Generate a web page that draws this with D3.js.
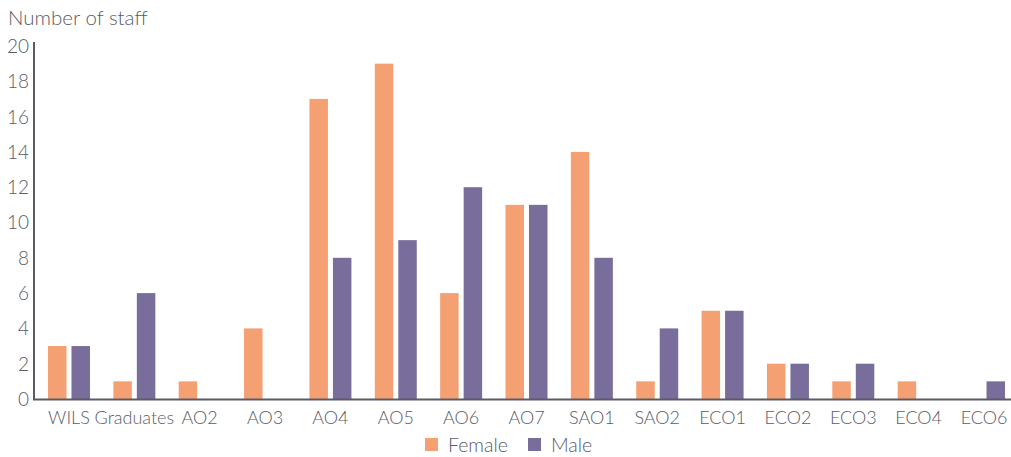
<!DOCTYPE html>
<html>
<head>
<meta charset="utf-8">
<script src="https://cdn.jsdelivr.net/npm/d3@7"></script>
<style>
  html, body { margin: 0; padding: 0; background: #fff; }
  svg text { font-family: "Lato", "Open Sans", sans-serif; font-weight: 300; fill: #5b5b66; }
</style>
</head>
<body>
<svg id="chart" width="1011" height="457"></svg>
<script>
// Staff headcount by grade, split by gender
const grades = ["WILS", "Graduates", "AO2", "AO3", "AO4", "AO5", "AO6", "AO7", "SAO1", "SAO2", "ECO1", "ECO2", "ECO3", "ECO4", "ECO6"];
const female = [3, 1, 1, 4, 17, 19, 6, 11, 14, 1, 5, 2, 1, 1, 0];
const male   = [3, 6, 0, 0, 8, 9, 12, 11, 8, 4, 5, 2, 2, 0, 1];
const seriesNames = ["Female", "Male"];
const yTicks = [0, 2, 4, 6, 8, 10, 12, 14, 16, 18, 20];

const colors = { Female: "#f4a072", Male: "#796e9b" };

const svg = d3.select("#chart");
const axisX = 34, plotLeft = 36.3, plotRight = 1016.7, plotTop = 46, plotBottom = 399;

const x = d3.scaleBand().domain(grades).range([plotLeft, plotRight]).padding(0);
const y = d3.scaleLinear().domain([0, 20]).range([plotBottom, plotTop]);

const barW = 18.5, gap = 2.5;

// bars
const rows = grades.map((g, i) => ({ grade: g, Female: female[i], Male: male[i] }));
seriesNames.forEach((s, si) => {
  svg.append("g").selectAll("rect")
    .data(rows.filter(d => d[s] > 0))
    .join("rect")
    .attr("x", d => {
      const c = x(d.grade) + x.bandwidth() / 2;
      return si === 0 ? c - gap - barW : c + gap;
    })
    .attr("y", d => y(d[s]))
    .attr("width", barW)
    .attr("height", d => plotBottom - y(d[s]))
    .attr("fill", colors[s]);
});

// y axis
const yAxis = d3.axisLeft(y).tickValues(yTicks).tickSize(0).tickPadding(6).tickFormat(d3.format("d"));
const gy = svg.append("g").attr("transform", `translate(${axisX},0)`).call(yAxis);
gy.select(".domain").remove();
gy.selectAll("text").style("font-size", "19px").attr("dy", "0.34em").attr("x", -5);
svg.append("line").attr("x1", axisX).attr("x2", axisX).attr("y1", 42).attr("y2", plotBottom + 1)
  .attr("stroke", "#5b5b66").attr("stroke-width", 2);

// x axis
const xAxis = d3.axisBottom(x).tickSize(0).tickPadding(12);
const gx = svg.append("g").attr("transform", `translate(0,${plotBottom})`).call(xAxis);
gx.select(".domain").remove();
gx.selectAll("text").style("font-size", "18px").attr("dy", "0.71em");
svg.append("line").attr("x1", axisX - 1).attr("x2", 1011).attr("y1", plotBottom + 0.5).attr("y2", plotBottom + 0.5)
  .attr("stroke", "#5b5b66").attr("stroke-width", 2);

// axis title
svg.append("text").attr("x", 8).attr("y", 25).style("font-size", "20.5px").text("Number of staff");

// legend
const legend = svg.append("g").attr("transform", "translate(425,438)");
seriesNames.forEach((s, i) => {
  const g = legend.append("g").attr("transform", `translate(${i * 103},0)`);
  g.append("rect").attr("width", 13).attr("height", 13).attr("fill", colors[s]);
  g.append("text").attr("x", 23).attr("y", 7).attr("dy", "0.35em").style("font-size", "19.5px").text(s);
});
</script>
</body>
</html>
